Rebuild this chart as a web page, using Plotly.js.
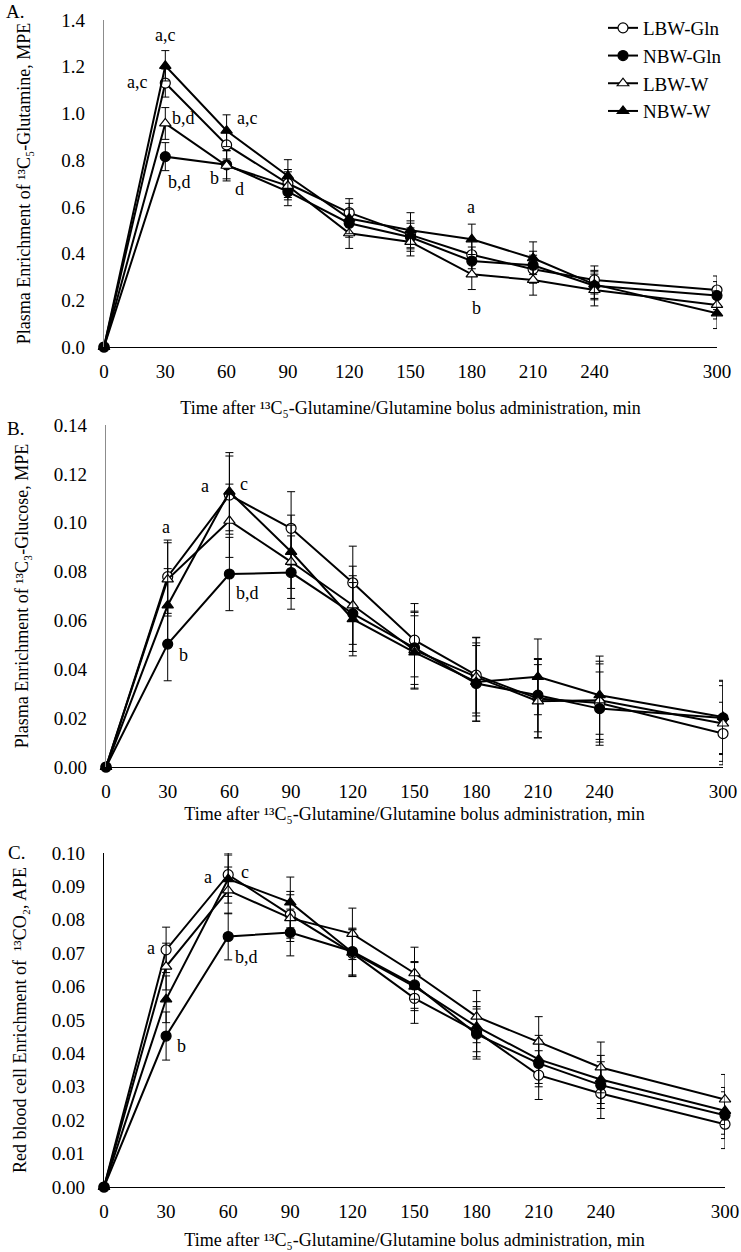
<!DOCTYPE html>
<html>
<head>
<meta charset="utf-8">
<script src="https://cdn.plot.ly/plotly-3.0.1.min.js"></script>
<style>html,body{margin:0;padding:0;background:#fff;}#chart{width:741px;height:1252px;}</style>
</head>
<body>
<div id="chart"></div>
<script>
// ---- data ----
var times = [0, 30, 60, 90, 120, 150, 180, 210, 240, 300];
var tickLabels = ['0', '30', '60', '90', '120', '150', '180', '210', '240', '300'];
var groups = ['LBW-Gln', 'NBW-Gln', 'LBW-W', 'NBW-W'];

// Panel A: plasma 13C5-glutamine enrichment, MPE
var glnLBWGln = [0, 1.130, 0.865, 0.700, 0.575, 0.480, 0.395, 0.333, 0.287, 0.244];
var glnNBWGln = [0, 0.815, 0.780, 0.665, 0.530, 0.470, 0.368, 0.350, 0.262, 0.220];
var glnLBWW   = [0, 0.957, 0.776, 0.690, 0.487, 0.450, 0.311, 0.287, 0.244, 0.180];
var glnNBWW   = [0, 1.204, 0.926, 0.732, 0.550, 0.500, 0.461, 0.380, 0.268, 0.144];
var glnSeLBWGln = [0, 0.060, 0.060, 0.060, 0.060, 0.060, 0.060, 0.060, 0.060, 0.060];
var glnSeNBWGln = [0, 0.060, 0.060, 0.060, 0.060, 0.060, 0.060, 0.060, 0.060, 0.060];
var glnSeLBWW   = [0, 0.068, 0.065, 0.060, 0.065, 0.060, 0.065, 0.065, 0.068, 0.060];
var glnSeNBWW   = [0, 0.065, 0.068, 0.070, 0.065, 0.075, 0.065, 0.070, 0.060, 0.065];

// Panel B: plasma 13C3-glucose enrichment, MPE
var gluLBWGln = [0, 0.0779, 0.1113, 0.0977, 0.0754, 0.0519, 0.0376, 0.0280, 0.0262, 0.0137];
var gluNBWGln = [0, 0.0503, 0.0790, 0.0796, 0.0628, 0.0488, 0.0342, 0.0294, 0.0239, 0.0201];
var gluLBWW   = [0, 0.0768, 0.1008, 0.0840, 0.0662, 0.0478, 0.0369, 0.0269, 0.0273, 0.0178];
var gluNBWW   = [0, 0.0662, 0.1127, 0.0881, 0.0605, 0.0469, 0.0348, 0.0369, 0.0294, 0.0205];
var gluSeLBWGln = [0, 0.0150, 0.0160, 0.0150, 0.0150, 0.0150, 0.0155, 0.0160, 0.0160, 0.0128];
var gluSeNBWGln = [0, 0.0150, 0.0150, 0.0150, 0.0155, 0.0150, 0.0155, 0.0150, 0.0150, 0.0150];
var gluSeLBWW   = [0, 0.0150, 0.0150, 0.0150, 0.0160, 0.0155, 0.0160, 0.0150, 0.0160, 0.0155];
var gluSeNBWW   = [0, 0.0150, 0.0160, 0.0150, 0.0150, 0.0150, 0.0160, 0.0155, 0.0160, 0.0150];

// Panel C: red blood cell 13CO2 enrichment, APE
var co2LBWGln = [0, 0.0710, 0.0935, 0.0815, 0.0700, 0.0565, 0.0465, 0.0335, 0.0280, 0.0188];
var co2NBWGln = [0, 0.0452, 0.0750, 0.0762, 0.0705, 0.0605, 0.0458, 0.0370, 0.0305, 0.0215];
var co2LBWW   = [0, 0.0660, 0.0888, 0.0805, 0.0758, 0.0640, 0.0510, 0.0435, 0.0358, 0.0262];
var co2NBWW   = [0, 0.0562, 0.0922, 0.0852, 0.0702, 0.0600, 0.0480, 0.0382, 0.0322, 0.0228];
var co2SeLBWGln = [0, 0.0068, 0.0065, 0.0070, 0.0070, 0.0075, 0.0075, 0.0073, 0.0075, 0.0073];
var co2SeNBWGln = [0, 0.0072, 0.0070, 0.0070, 0.0070, 0.0070, 0.0075, 0.0070, 0.0070, 0.0070];
var co2SeLBWW   = [0, 0.0070, 0.0070, 0.0070, 0.0077, 0.0078, 0.0078, 0.0075, 0.0076, 0.0075];
var co2SeNBWW   = [0, 0.0070, 0.0072, 0.0076, 0.0070, 0.0072, 0.0075, 0.0072, 0.0072, 0.0070];

// significance letters [x, y, text] per panel
var lettersA = [[30, 1.336, 'a,c'], [16, 1.134, 'a,c'], [39, 0.980, 'b,d'], [37, 0.706, 'b,d'],
                [70, 0.980, 'a,c'], [54, 0.723, 'b'], [66.5, 0.676, 'd'], [179.6, 0.599, 'a'], [182.5, 0.167, 'b']];
var lettersB = [[29.2, 0.0982, 'a'], [37.9, 0.0458, 'b'], [48.1, 0.1150, 'a'], [67.1, 0.1158, 'c'], [69, 0.0712, 'b,d']];
var lettersC = [[22.7, 0.0716, 'a'], [37.2, 0.0422, 'b'], [50.2, 0.0928, 'a'], [68.1, 0.0943, 'c'], [69, 0.0689, 'b,d']];

// axis titles (Unicode super/subscripts)
var xTitle = 'Time after ¹³C₅-Glutamine/Glutamine bolus administration, min';
var yTitleA = 'Plasma Enrichment of ¹³C₅-Glutamine, MPE';
var yTitleB = 'Plasma Enrichment of ¹³C₃-Glucose, MPE';
var yTitleC = 'Red blood cell Enrichment of  ¹³CO₂, APE';

// ---- styling ----
var FONT = 'Liberation Serif, Times New Roman, serif';
var markerStyles = {
  'LBW-Gln': {symbol: 'circle', color: '#ffffff', size: 10},
  'NBW-Gln': {symbol: 'circle', color: '#000000', size: 10},
  'LBW-W':   {symbol: 'triangle-up', color: '#ffffff', size: 10},
  'NBW-W':   {symbol: 'triangle-up', color: '#000000', size: 10}
};

function makeTrace(name, y, se, xa, ya, showLegend) {
  var m = markerStyles[name];
  return {
    type: 'scatter', mode: 'lines+markers', name: name,
    x: times, y: y, xaxis: xa, yaxis: ya,
    showlegend: showLegend, legendgroup: name,
    cliponaxis: false,
    line: {color: '#000000', width: 2},
    marker: {symbol: m.symbol, size: m.size, color: m.color, line: {color: '#000000', width: 1.2}},
    error_y: {type: 'data', array: se, visible: true, color: '#000000', thickness: 1, width: 4}
  };
}

var traces = [
  makeTrace('LBW-Gln', glnLBWGln, glnSeLBWGln, 'x', 'y', true),
  makeTrace('NBW-Gln', glnNBWGln, glnSeNBWGln, 'x', 'y', true),
  makeTrace('LBW-W', glnLBWW, glnSeLBWW, 'x', 'y', true),
  makeTrace('NBW-W', glnNBWW, glnSeNBWW, 'x', 'y', true),
  makeTrace('LBW-Gln', gluLBWGln, gluSeLBWGln, 'x2', 'y2', false),
  makeTrace('NBW-Gln', gluNBWGln, gluSeNBWGln, 'x2', 'y2', false),
  makeTrace('LBW-W', gluLBWW, gluSeLBWW, 'x2', 'y2', false),
  makeTrace('NBW-W', gluNBWW, gluSeNBWW, 'x2', 'y2', false),
  makeTrace('LBW-Gln', co2LBWGln, co2SeLBWGln, 'x3', 'y3', false),
  makeTrace('NBW-Gln', co2NBWGln, co2SeNBWGln, 'x3', 'y3', false),
  makeTrace('LBW-W', co2LBWW, co2SeLBWW, 'x3', 'y3', false),
  makeTrace('NBW-W', co2NBWW, co2SeNBWW, 'x3', 'y3', false)
];

var W = 741, H = 1252;
function xd(a, b) { return [a / W, b / W]; }
function yd(top, bottom) { return [1 - bottom / H, 1 - top / H]; }

var TICK = 19, TITLE = 18;

function xAxis(domain, anchor, standoff) {
  return {
    domain: domain, anchor: anchor, range: [0, 300],
    tickmode: 'array', tickvals: times, ticktext: tickLabels,
    showline: true, linecolor: '#000000', linewidth: 1.2,
    ticks: '', showgrid: false, zeroline: false,
    tickfont: {family: FONT, size: TICK, color: '#000'},
    ticklabelstandoff: 7,
    title: {text: xTitle, font: {family: FONT, size: TITLE, color: '#000'}, standoff: standoff},
    fixedrange: true
  };
}
function yAxis(domain, anchor, range, dtick, fmt, title, lineColor, standoff) {
  return {
    domain: domain, anchor: anchor, range: range, dtick: dtick, tick0: 0, tickformat: fmt,
    showline: true, linecolor: lineColor, linewidth: 1.2,
    ticks: '', showgrid: false, zeroline: false,
    tickfont: {family: FONT, size: TICK, color: '#000'},
    ticklabelstandoff: 14,
    title: {text: title, font: {family: FONT, size: TITLE, color: '#000'}, standoff: standoff},
    fixedrange: true
  };
}

var annotations = [];
function addLetters(list, xr, yr) {
  list.forEach(function (l) {
    annotations.push({x: l[0], y: l[1], xref: xr, yref: yr, text: l[2], showarrow: false,
      font: {family: FONT, size: 18, color: '#000'}});
  });
}
addLetters(lettersA, 'x', 'y');
addLetters(lettersB, 'x2', 'y2');
addLetters(lettersC, 'x3', 'y3');
[['A.', 15, 11], ['B.', 15, 428], ['C.', 16, 852]].forEach(function (p) {
  annotations.push({x: p[1] / W, y: 1 - p[2] / H, xref: 'paper', yref: 'paper', text: p[0],
    showarrow: false, xanchor: 'center', yanchor: 'middle', font: {family: FONT, size: 19, color: '#000'}});
});

var layout = {
  width: W, height: H,
  margin: {l: 0, r: 0, t: 0, b: 0},
  paper_bgcolor: '#ffffff', plot_bgcolor: '#ffffff',
  font: {family: FONT, color: '#000'},
  showlegend: true,
  legend: {x: 603 / W, y: 1 - 9 / H, xanchor: 'left', yanchor: 'top',
    font: {family: FONT, size: 19, color: '#000'}, bgcolor: 'rgba(0,0,0,0)', tracegroupgap: 0, itemwidth: 30},
  xaxis: xAxis(xd(104, 717), 'y', 20),
  yaxis: yAxis(yd(20, 347), 'x', [0, 1.4], 0.2, '.1f', yTitleA, '#8c8c8c', 26),
  xaxis2: xAxis(xd(106, 723), 'y2', 6),
  yaxis2: yAxis(yd(425, 767), 'x2', [0, 0.14], 0.02, '.2f', yTitleB, '#8c8c8c', 20),
  xaxis3: xAxis(xd(104, 725), 'y3', 12),
  yaxis3: yAxis(yd(853, 1187), 'x3', [0, 0.10], 0.01, '.2f', yTitleC, '#000000', 20),
  annotations: annotations
};

Plotly.newPlot('chart', traces, layout, {displayModeBar: false});
</script>
</body>
</html>
